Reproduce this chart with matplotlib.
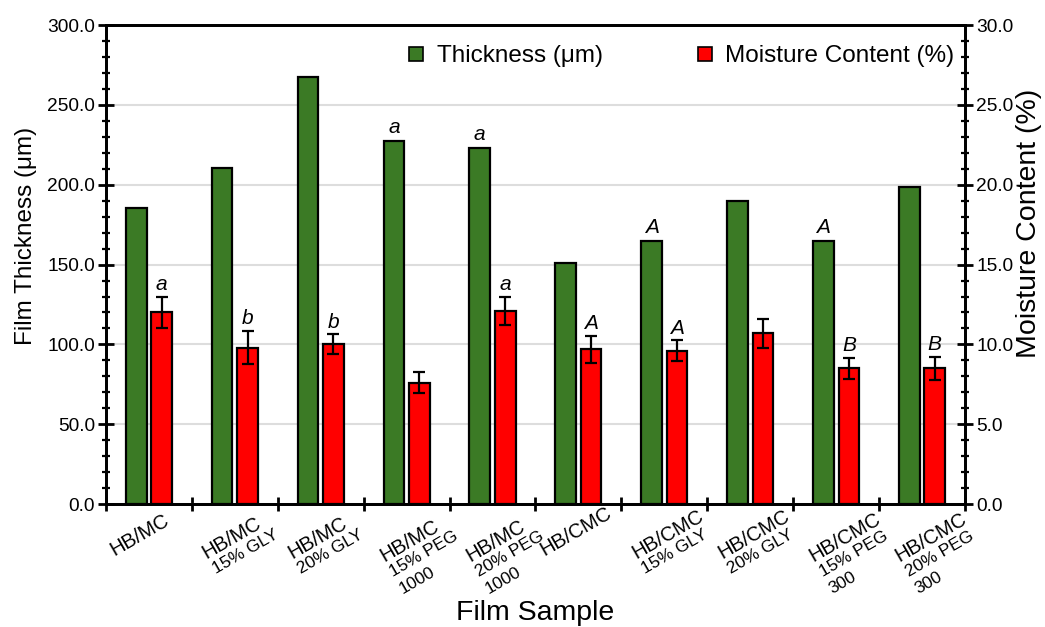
import numpy as np
import matplotlib
matplotlib.use("Agg")
import matplotlib.pyplot as plt
from matplotlib.lines import Line2D
from matplotlib.ticker import MultipleLocator, FormatStrFormatter

plt.rcParams['font.family'] = ['Liberation Sans', 'DejaVu Sans']

# data
samples = [["HB/MC"],
           ["HB/MC", "15% GLY"],
           ["HB/MC", "20% GLY"],
           ["HB/MC", "15% PEG", "1000"],
           ["HB/MC", "20% PEG", "1000"],
           ["HB/CMC"],
           ["HB/CMC", "15% GLY"],
           ["HB/CMC", "20% GLY"],
           ["HB/CMC", "15% PEG", "300"],
           ["HB/CMC", "20% PEG", "300"]]
thickness = [185.6, 210.2, 267.5, 227.3, 223.2, 150.7, 164.9, 189.6, 164.9, 198.5]
thickness_letters = ["", "", "", "a", "a", "", "A", "", "A", ""]
moisture = [12.0, 9.8, 10.0, 7.6, 12.1, 9.7, 9.6, 10.7, 8.5, 8.5]
moisture_err = [0.97, 1.03, 0.63, 0.65, 0.88, 0.85, 0.65, 0.9, 0.65, 0.7]
moisture_letters = ["a", "b", "b", "", "a", "A", "A", "", "B", "B"]

green = '#3b7a25'
red = '#ff0000'

fig = plt.figure(figsize=(10.45, 6.27), dpi=100)
ax = fig.add_axes([0.1014, 0.196, 0.8220, 0.764])
ax2 = ax.twinx()

x = np.arange(len(samples))
w = 0.24
off = 0.148

ax.bar(x - off, thickness, w, color=green, edgecolor='black', linewidth=1.6, zorder=3)
ax2.bar(x + off, moisture, w, color=red, edgecolor='black', linewidth=1.6, zorder=3)
ax2.errorbar(x + off, moisture, yerr=moisture_err, fmt='none', ecolor='black',
             elinewidth=1.6, capsize=4.5, capthick=1.6, zorder=4)

# significance letters
for i in range(len(x)):
    if thickness_letters[i]:
        ax.annotate(thickness_letters[i], xy=(x[i] - off, thickness[i]),
                    xytext=(0, 3), textcoords='offset points', ha='center',
                    va='bottom', fontsize=15, style='italic')
    if moisture_letters[i]:
        ax2.annotate(moisture_letters[i], xy=(x[i] + off, moisture[i] + moisture_err[i]),
                     xytext=(0, 2), textcoords='offset points', ha='center',
                     va='bottom', fontsize=15, style='italic')

ax.set_xlim(-0.5, len(samples) - 0.5)
ax.set_ylim(0, 300)
ax2.set_ylim(0, 30)

ax.yaxis.set_major_locator(MultipleLocator(50))
ax.yaxis.set_minor_locator(MultipleLocator(10))
ax.yaxis.set_major_formatter(FormatStrFormatter('%.1f'))
ax2.yaxis.set_major_locator(MultipleLocator(5))
ax2.yaxis.set_minor_locator(MultipleLocator(1))
ax2.yaxis.set_major_formatter(FormatStrFormatter('%.1f'))

ax.set_xticks(np.arange(-0.5, len(samples), 1))
ax.set_xticklabels([])

ax.grid(axis='y', color='#dddddd', linewidth=1.5, zorder=0)
ax.set_axisbelow(True)

for a in (ax, ax2):
    for s in a.spines.values():
        s.set_linewidth(2)
ax.tick_params(axis='x', which='major', direction='inout', length=10, width=2)
ax.tick_params(axis='y', which='major', direction='inout', length=12, width=2,
               labelsize=13.8, pad=2)
ax.tick_params(axis='y', which='minor', direction='inout', length=6, width=1.6)
ax2.tick_params(axis='y', which='major', direction='inout', length=12, width=2,
                labelsize=13.8, pad=2)
ax2.tick_params(axis='y', which='minor', direction='inout', length=6, width=1.6)

# multi-line rotated category labels
px = np.array([0.5, 0.866])
for i, lines in enumerate(samples):
    n = len(lines)
    start = np.array([-37 + 6 * (n - 1), 47 + 3 * (n - 1)])
    for k, txt in enumerate(lines):
        p = start + k * 19 * px
        ax.annotate(txt, xy=(x[i], 0), xycoords=ax.get_xaxis_transform(),
                    xytext=(p[0], -p[1]), textcoords='offset pixels',
                    rotation=30, rotation_mode='anchor', ha='left', va='center',
                    fontsize=14.5 if k == 0 else 12.5, annotation_clip=False)

ax.set_ylabel('Film Thickness (\u03bcm)', fontsize=17.5)
ax.yaxis.set_label_coords(-0.080, 0.56)
ax2.set_ylabel('Moisture Content (%)', fontsize=20.5, rotation=90)
ax2.yaxis.set_label_coords(1.059, 0.586)
fig.text(0.512, 1 - 613 / 627, 'Film Sample', ha='center', va='center', fontsize=20.5)

handles = [Line2D([], [], marker='s', linestyle='none', markersize=9.5,
                  markerfacecolor=green, markeredgecolor='black', markeredgewidth=1.2),
           Line2D([], [], marker='s', linestyle='none', markersize=9.5,
                  markerfacecolor=red, markeredgecolor='black', markeredgewidth=1.2)]
ax2.legend(handles, ['Thickness (\u03bcm)', 'Moisture Content (%)'], ncol=2,
           frameon=False, fontsize=17.5, loc='center',
           bbox_to_anchor=(0.669, 0.935), handlelength=0.8, handletextpad=0.44,
           columnspacing=3.8, borderaxespad=0)

fig.savefig('out.png', dpi=100)
